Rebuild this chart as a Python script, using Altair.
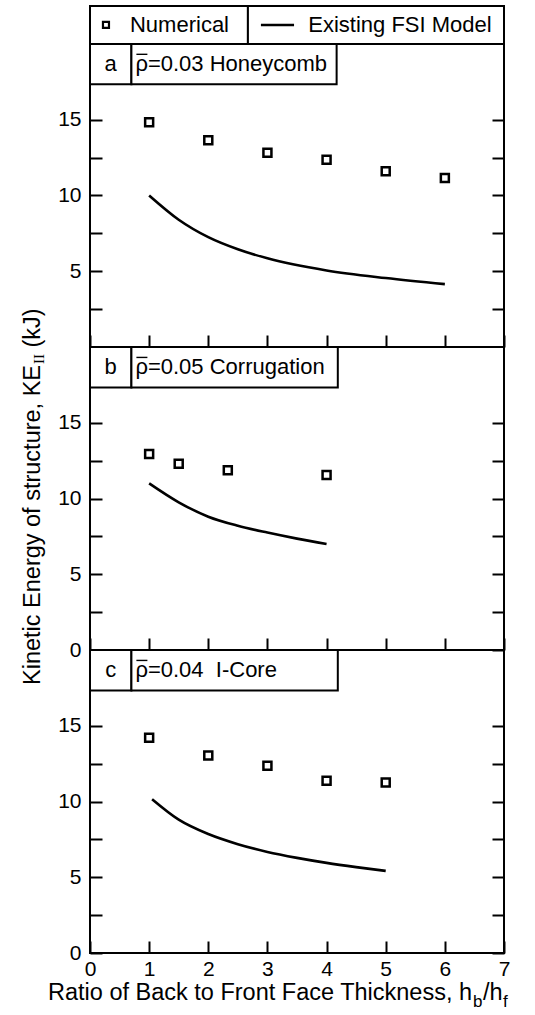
import altair as alt
import pandas as pd

# ---------------- data ----------------
x_num_a = [1, 2, 3, 4, 5, 6]
y_num_a = [14.83, 13.64, 12.81, 12.36, 11.6, 11.15]
x_fsi_a = [1, 1.5, 2, 2.5, 3, 4, 5, 6]
y_fsi_a = [10.0, 8.4, 7.25, 6.45, 5.85, 5.05, 4.55, 4.15]

x_num_b = [1, 1.5, 2.33, 4]
y_num_b = [12.93, 12.29, 11.86, 11.55]
x_fsi_b = [1, 1.5, 2, 2.5, 3, 3.5, 4]
y_fsi_b = [11.0, 9.75, 8.8, 8.2, 7.75, 7.35, 7.0]

x_num_c = [1, 2, 3, 4, 5]
y_num_c = [14.2, 13.04, 12.36, 11.37, 11.26]
x_fsi_c = [1.05, 1.5, 2, 2.5, 3, 3.5, 4, 4.5, 5]
y_fsi_c = [10.15, 8.8, 7.85, 7.18, 6.67, 6.28, 5.95, 5.67, 5.42]

panel_letters = ["a", "b", "c"]
panel_names = ["\u03c1=0.03 Honeycomb",
               "\u03c1=0.05 Corrugation",
               "\u03c1=0.04\u00a0 I-Core"]
legend_labels = ["Numerical", "Existing FSI Model"]
x_tick_values = [0, 1, 2, 3, 4, 5, 6, 7]
y_tick_values = [0, 2.5, 5, 7.5, 10, 12.5, 15]
x_title_parts = ["Ratio of Back to Front Face Thickness, h", "b", "/h", "f"]
y_title_parts = ["Kinetic Energy of structure, KE", "II", "(kJ)"]

# ---------------- layout / style ----------------
FONT = "Liberation Sans"
SERIF = "Liberation Serif"
W = 414
PX_X = W / 7.0
H_A, H_BC = 341, 303
YTOP_A, YTOP = 22.5, 20
PX_Y = H_BC / 20.0
LABEL_Y0 = 17.33
CELL_X = 0.70
NAME_X2 = [4.17, 4.19, 4.19]
LEG_DIV = 2.67
LEG_Y = 21.25
LEG_SQ_X, LEG_TXT1_X = 0.27, 0.676
LEG_LINE_X, LEG_LINE_X2, LEG_TXT2_X = 2.89, 3.45, 3.69
TICK = 12
TITLE_FS = 23.5
SUB_FS = 17
NAME_FS = 22


def text_piece(t, x, y, size, angle=0, font=FONT):
    return alt.Chart(pd.DataFrame({"t": [t]})).mark_text(
        font=font, fontSize=size, align="left", baseline="alphabetic",
        angle=angle, color="black"
    ).encode(x=alt.value(x), y=alt.value(y), text="t:N")


def build_panel(k, xn, yn, xf, yf, height, ytop, bottom, extras=()):
    xaxis = alt.Axis(values=x_tick_values, offset=-TICK, tickSize=TICK, tickWidth=2,
                     tickColor="black", domain=False, grid=False, labels=bottom,
                     labelFlush=False, labelPadding=5, labelFont=FONT, labelFontSize=21,
                     labelColor="black", format="d", title=None, labelOverlap=False, zindex=1)
    xs = alt.Scale(domain=[0, 7], nice=False, zero=False)

    def X():
        return alt.X("x:Q", scale=xs, axis=xaxis)

    def ys():
        return alt.Scale(domain=[0, ytop], nice=False, zero=False)

    yv = [v for v in y_tick_values if (k > 0 or v > 0)]
    common = dict(values=yv, offset=-TICK, tickSize=TICK, tickWidth=2, tickColor="black",
                  domain=False, grid=False, title=None, zindex=1)
    yleft = alt.Axis(orient="left", labelExpr="datum.value % 5 == 0 ? datum.label : ''",
                     labelPadding=9, labelFont=FONT, labelFontSize=21, labelColor="black",
                     labelOverlap=False, **common)
    yright = alt.Axis(orient="right", labels=False, **common)

    # outer frame of the panel
    frame = alt.Chart(pd.DataFrame({"x": [0], "x2": [7], "y": [0], "y2": [ytop]})).mark_rect(
        fill="transparent", stroke="black", strokeWidth=2
    ).encode(x=X(), x2="x2:Q", y=alt.Y("y:Q", scale=ys(), axis=None), y2="y2:Q")

    bx = [0, CELL_X]
    bx2 = [CELL_X, NAME_X2[k]]
    by = [LABEL_Y0, LABEL_Y0]
    by2 = [YTOP, YTOP]
    if k == 0:
        bx += [0, LEG_DIV]
        bx2 += [LEG_DIV, 7]
        by += [YTOP, YTOP]
        by2 += [YTOP_A, YTOP_A]
    boxes = alt.Chart(pd.DataFrame({"x": bx, "x2": bx2, "y": by, "y2": by2})).mark_rect(
        fill="white", stroke="black", strokeWidth=2
    ).encode(x=X(), x2="x2:Q", y=alt.Y("y:Q", scale=ys(), axis=None), y2="y2:Q")

    ymid = (LABEL_Y0 + YTOP) / 2
    letter = alt.Chart(pd.DataFrame({"x": [CELL_X / 2], "y": [ymid], "t": [panel_letters[k]]})).mark_text(
        font=FONT, fontSize=NAME_FS, align="center", baseline="middle", color="black"
    ).encode(x=X(), y=alt.Y("y:Q", scale=ys(), axis=None), text="t:N")
    name = alt.Chart(pd.DataFrame({"x": [CELL_X], "y": [ymid], "t": [panel_names[k]]})).mark_text(
        font=FONT, fontSize=NAME_FS, align="left", baseline="middle", dx=4, color="black"
    ).encode(x=X(), y=alt.Y("y:Q", scale=ys(), axis=None), text="t:N")
    # overbar of rho-bar, drawn as a short rule over the rho glyph
    bar_df = pd.DataFrame({"x": [CELL_X + 5.0 / PX_X], "x2": [CELL_X + 16.0 / PX_X],
                           "y": [ymid + 9.8 / PX_Y]})
    bar = alt.Chart(bar_df).mark_rule(color="black", strokeWidth=1.4).encode(
        x=X(), x2="x2:Q", y=alt.Y("y:Q", scale=ys(), axis=None))

    line = alt.Chart(pd.DataFrame({"x": xf, "y": yf})).mark_line(
        color="black", strokeWidth=2.6, interpolate="monotone"
    ).encode(x=X(), y=alt.Y("y:Q", scale=ys(), axis=yright))
    pts = alt.Chart(pd.DataFrame({"x": xn, "y": yn})).mark_point(
        shape="square", size=64, filled=True, fill="white", stroke="black",
        strokeWidth=2.5, opacity=1, fillOpacity=1
    ).encode(x=X(), y=alt.Y("y:Q", scale=ys(), axis=yleft))

    layers = [frame, boxes, letter, name, bar, line, pts]

    if k == 0:
        lp = alt.Chart(pd.DataFrame({"x": [LEG_SQ_X], "y": [LEG_Y]})).mark_point(
            shape="square", size=36, filled=True, fill="white", stroke="black",
            strokeWidth=2.2, opacity=1, fillOpacity=1
        ).encode(x=X(), y=alt.Y("y:Q", scale=ys(), axis=None))
        lr = alt.Chart(pd.DataFrame({"x": [LEG_LINE_X], "x2": [LEG_LINE_X2], "y": [LEG_Y]})).mark_rule(
            color="black", strokeWidth=2.6
        ).encode(x=X(), x2="x2:Q", y=alt.Y("y:Q", scale=ys(), axis=None))
        lt = alt.Chart(pd.DataFrame({"x": [LEG_TXT1_X, LEG_TXT2_X], "y": [LEG_Y, LEG_Y],
                                     "t": legend_labels})).mark_text(
            font=FONT, fontSize=NAME_FS, align="left", baseline="middle", color="black"
        ).encode(x=X(), y=alt.Y("y:Q", scale=ys(), axis=None), text="t:N")
        layers += [lp, lr, lt]

    layers += list(extras)
    return alt.layer(*layers).resolve_scale(y="independent").properties(width=W, height=height)


# y-axis title (rotated, with subscript), placed beside the middle panel
Y0 = 338
L1 = 13.617 * TITLE_FS
yt = [
    text_piece(y_title_parts[0], -50.5, Y0, TITLE_FS, angle=270),
    text_piece(y_title_parts[1], -46.0, Y0 - L1 - 1, 15, angle=270, font=SERIF),
    text_piece(y_title_parts[2], -50.5, Y0 - L1 - 1 - 10 - 6.5, TITLE_FS, angle=270),
]

# x-axis title (with subscripts), placed under the bottom panel
XB = 350
q1 = 18.063 * TITLE_FS
xt = [
    text_piece(x_title_parts[0], -42, XB, TITLE_FS),
    text_piece(x_title_parts[1], -42 + q1 + 0.5, XB + 6.5, SUB_FS),
    text_piece(x_title_parts[2], -42 + q1 + 0.5 + 9.5 + 0.5, XB, TITLE_FS),
    text_piece(x_title_parts[3], -42 + q1 + 0.5 + 9.5 + 0.5 + 19.6 + 0.5, XB + 6.5, SUB_FS),
]

pa = build_panel(0, x_num_a, y_num_a, x_fsi_a, y_fsi_a, H_A, YTOP_A, False)
pb = build_panel(1, x_num_b, y_num_b, x_fsi_b, y_fsi_b, H_BC, YTOP, False, extras=yt)
pc = build_panel(2, x_num_c, y_num_c, x_fsi_c, y_fsi_c, H_BC, YTOP, True, extras=xt)

chart = alt.vconcat(pa, pb, pc, spacing=0, bounds="flush").properties(
    padding={"left": 20, "top": 5, "right": 5, "bottom": 2},
    background="white",
).configure_view(stroke=None)

chart.save("out.html", embed_options={"renderer": "svg", "actions": False})
